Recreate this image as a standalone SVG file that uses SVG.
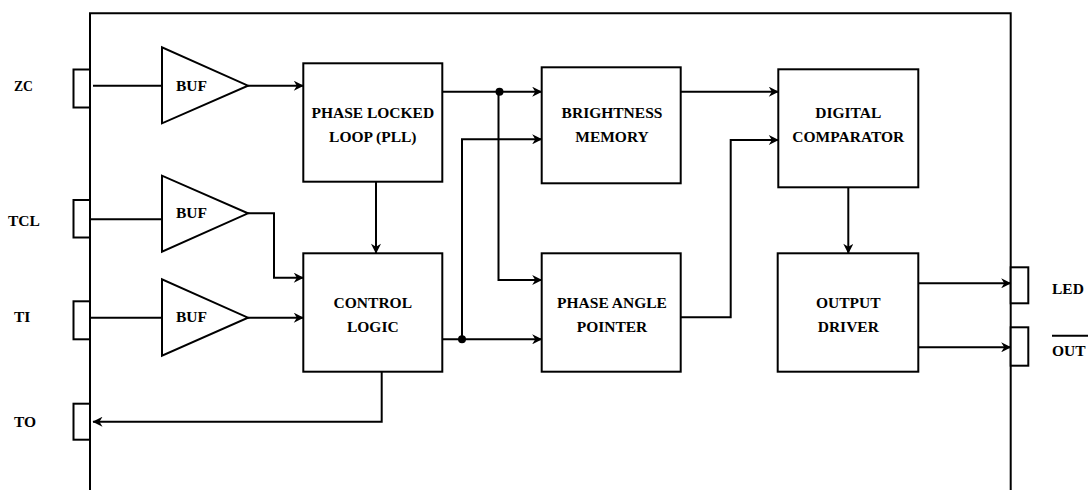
<svg xmlns="http://www.w3.org/2000/svg" width="1090" height="490" viewBox="0 0 1090 490" font-family="'Liberation Serif', 'Times New Roman', serif">
<style>
.s{fill:#fff;stroke:#000;stroke-width:2}
.w{fill:none;stroke:#000;stroke-width:2}
.t{font-family:'Liberation Serif','Times New Roman',serif;font-weight:700;font-size:15.5px;fill:#000}
.c{text-anchor:middle}
</style>
<defs>
<marker id="a" markerUnits="userSpaceOnUse" viewBox="0 0 10 10" refX="9.5" refY="5" markerWidth="11" markerHeight="10" orient="auto">
<path d="M0,0 L10,5 L0,10 L3,5 z" fill="#000"/>
</marker>
</defs>
<rect width="1090" height="490" fill="#fff"/>
<g id="chip"><path class="w" d="M90,495 V13.3 H1010.7 V495"/></g>
<g id="pin-zc"><rect class="s" x="73.5" y="69.5" width="16.5" height="38"/><text class="t" x="14" y="90.5" textLength="19" lengthAdjust="spacingAndGlyphs">ZC</text></g>
<g id="pin-tcl"><rect class="s" x="73.5" y="200" width="16.5" height="37.5"/><text class="t" x="8" y="226">TCL</text></g>
<g id="pin-ti"><rect class="s" x="73.5" y="301.3" width="16.5" height="38"/><text class="t" x="14" y="322.3">TI</text></g>
<g id="pin-to"><rect class="s" x="73.5" y="403.7" width="16.5" height="36"/><text class="t" x="14" y="426.5">TO</text></g>
<g id="pin-led"><rect class="s" x="1010.7" y="267.3" width="17.6" height="36"/><text class="t" x="1052" y="294.3">LED</text></g>
<g id="pin-out"><rect class="s" x="1010.7" y="327.3" width="17.6" height="38.4"/><text class="t" x="1052" y="356">OUT</text><line class="w" x1="1052" y1="335.7" x2="1088" y2="335.7"/></g>
<g id="buf-zc"><path class="s" d="M162,47.3 V123.3 L248,85.7 Z"/><text class="t" x="176" y="90.7">BUF</text></g>
<g id="buf-tcl"><path class="s" d="M162,175.7 V251.7 L248,213.3 Z"/><text class="t" x="176" y="218">BUF</text></g>
<g id="buf-ti"><path class="s" d="M162,279.3 V355.7 L248,317.7 Z"/><text class="t" x="176" y="322.3">BUF</text></g>
<g id="pll"><rect class="s" x="303.3" y="63.3" width="139" height="118.4"/><text class="t c" x="372.8" y="117.7">PHASE LOCKED</text><text class="t c" x="372.8" y="141.7">LOOP (PLL)</text></g>
<g id="control-logic"><rect class="s" x="303.3" y="253.3" width="139" height="118.4"/><text class="t c" x="372.8" y="307.7">CONTROL</text><text class="t c" x="372.8" y="331.7">LOGIC</text></g>
<g id="brightness-memory"><rect class="s" x="541.7" y="67.3" width="139" height="116"/><text class="t c" x="612" y="117.7">BRIGHTNESS</text><text class="t c" x="612" y="141.7">MEMORY</text></g>
<g id="phase-angle-pointer"><rect class="s" x="541.7" y="253.3" width="139" height="118.4"/><text class="t c" x="612" y="308.3">PHASE ANGLE</text><text class="t c" x="612" y="332.3">POINTER</text></g>
<g id="digital-comparator"><rect class="s" x="778.3" y="69.3" width="140" height="118"/><text class="t c" x="848.3" y="118.3">DIGITAL</text><text class="t c" x="848.3" y="142.3">COMPARATOR</text></g>
<g id="output-driver"><rect class="s" x="777.7" y="253.3" width="140.6" height="118.4"/><text class="t c" x="848.3" y="308.3">OUTPUT</text><text class="t c" x="848.3" y="332.3">DRIVER</text></g>
<g id="connectors">
<path class="w" d="M93,85.7 H162"/>
<path class="w" d="M248,85.7 H303.3" marker-end="url(#a)"/>
<path class="w" d="M90,219.3 H162"/>
<path class="w" d="M248,213.3 H274 V277.7 H303.3" marker-end="url(#a)"/>
<path class="w" d="M90,317.7 H162"/>
<path class="w" d="M248,317.7 H303.3" marker-end="url(#a)"/>
<path class="w" d="M376,181.7 V253.3" marker-end="url(#a)"/>
<path class="w" d="M442.3,91.7 H541.7" marker-end="url(#a)"/>
<path class="w" d="M498.5,91.7 V280 H541.7" marker-end="url(#a)"/>
<path class="w" d="M442.3,339.3 H541.7" marker-end="url(#a)"/>
<path class="w" d="M462,339.3 V139.3 H541.7" marker-end="url(#a)"/>
<path class="w" d="M381.7,371.7 V421.7 H93" marker-end="url(#a)"/>
<path class="w" d="M680.7,91.7 H778.3" marker-end="url(#a)"/>
<path class="w" d="M680.7,317.3 H730.7 V140 H778.3" marker-end="url(#a)"/>
<path class="w" d="M848.3,187.3 V253.3" marker-end="url(#a)"/>
<path class="w" d="M918.3,283.3 H1010.7" marker-end="url(#a)"/>
<path class="w" d="M918.3,347.3 H1010.7" marker-end="url(#a)"/>
<circle cx="499.5" cy="91.7" r="4"/>
<circle cx="462" cy="339.3" r="4"/>
</g>
</svg>
